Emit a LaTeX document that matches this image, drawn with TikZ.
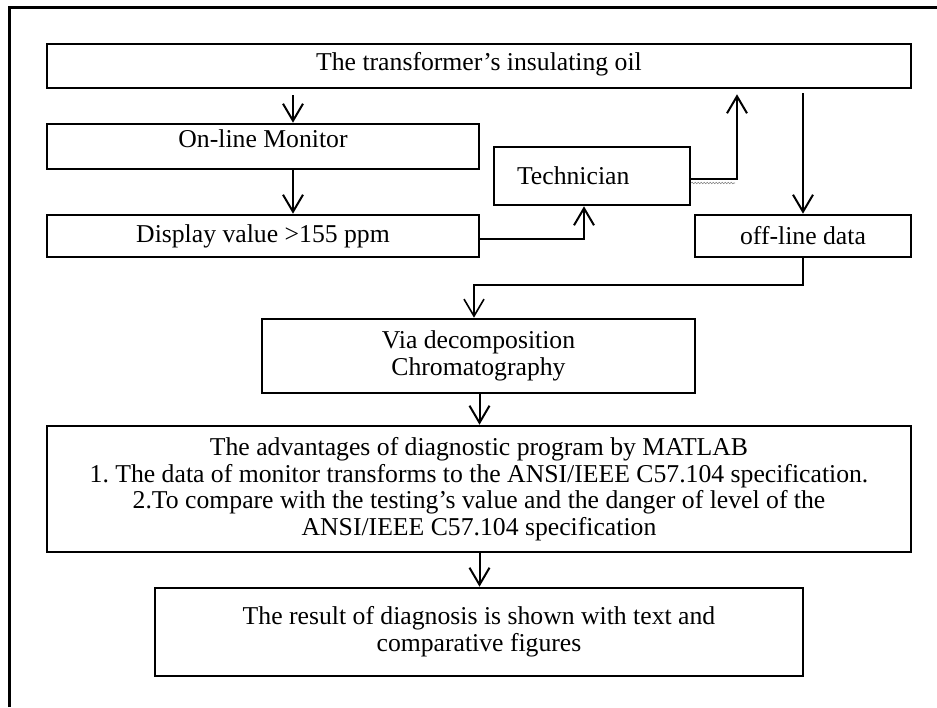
\documentclass[tikz,border=0pt]{standalone}
\usepackage{fontspec}
\setmainfont{Liberation Serif}
\usetikzlibrary{arrows.meta,decorations.pathmorphing}
\frenchspacing

\tikzset{
	block/.style={draw, rectangle, line width=2.6pt, inner sep=0pt, align=center,
		font=\fontsize{25.7pt}{26.6pt}\selectfont},
	flow/.style={line width=2pt, -{Straight Barb[length=17pt,width=20pt]}},
	squiggle/.style={decorate, decoration={snake, amplitude=0.8pt, segment length=3pt},
		line width=0.6pt, gray}
}

\begin{document}
\begin{tikzpicture}[x=1pt,y=-1pt]
	\useasboundingbox (0,0) rectangle (937,707);

	% Outer frame
	\draw[line width=3pt] (9,707) -- (9,7) -- (937,7);

	% Insulating oil
	\node[block, minimum width=864pt, minimum height=44pt, text depth=10pt] (oil) at (479,66) {The transformer's insulating oil};

	% On-line monitor
	\node[block, minimum width=432pt, minimum height=45pt, text depth=15pt] (monitor) at (263,146.5) {On-line Monitor};

	% Display value
	\node[block, minimum width=432pt, minimum height=42pt] (display) at (263,236) {Display value >155 ppm};

	% Technician
	\node[block, minimum width=196pt, minimum height=58pt, text width=150pt, inner xsep=23pt, align=left] (tech) at (592,176) {Technician};

	% Off-line data
	\node[block, minimum width=216pt, minimum height=42pt] (offline) at (803,236) {off-line data};

	% Chromatography
	\node[block, minimum width=433pt, minimum height=74pt] (via) at (478.5,356) {Via decomposition\\Chromatography};

	% Diagnostic program
	\node[block, minimum width=864pt, minimum height=126pt] (matlab) at (479,489) {The advantages of diagnostic program by MATLAB\\1. The data of monitor transforms to the ANSI/IEEE C57.104 specification.\\2.To compare with the testing's value and the danger of level of the\\ANSI/IEEE C57.104 specification};

	% Result
	\node[block, minimum width=648pt, minimum height=88pt] (result) at (479,632) {The result of diagnosis is shown with text and\\comparative figures};

	% Oil to monitor to display
	\coordinate (c1) at (293,0);
	\draw[flow, shorten <=6pt] (oil.south -| c1) -- (monitor.north -| c1);
	\draw[flow] (monitor.south -| c1) -- (display.north -| c1);

	% Display to technician
	\coordinate (c2) at (584,239);
	\draw[flow] ([xshift=-2pt]display.east |- c2) -- (c2) -- (tech.south -| c2);

	% Technician back to oil
	\coordinate (c3) at (737,179);
	\draw[flow, shorten >=5pt] (tech.east |- c3) -- (c3) -- (oil.south -| c3);
	\draw[squiggle] ([yshift=-4pt]tech.east |- c3) -- ([yshift=-4pt,xshift=-2pt]c3);

	% Oil to off-line data
	\draw[flow, shorten <=4pt] (oil.south -| offline.north) -- (offline.north);

	% Off-line data to chromatography
	\coordinate (c4) at (474,285);
	\draw[flow, line width=1.6pt] (offline.south) |- (c4) -- (via.north -| c4);

	% Down to the program and the result
	\coordinate (c5) at (479.5,0);
	\draw[flow] (via.south -| c5) -- (matlab.north -| c5);
	\draw[flow] (matlab.south -| c5) -- (result.north -| c5);

\end{tikzpicture}
\end{document}
